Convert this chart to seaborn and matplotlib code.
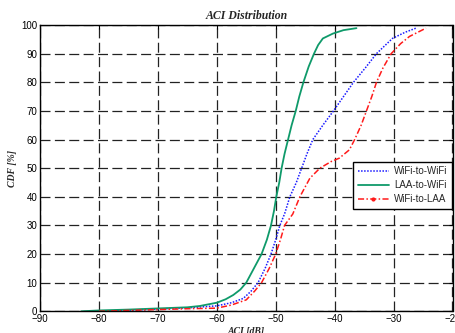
import numpy as np
import pandas as pd
import matplotlib
matplotlib.use("Agg")
import matplotlib.pyplot as plt
from matplotlib.lines import Line2D
import seaborn as sns

series_names = ["WiFi-to-WiFi", "LAA-to-WiFi", "WiFi-to-LAA"]

wifi_wifi_x = [-80, -75, -70, -65, -60, -57.5, -55.5, -54.2, -53, -51.8, -50.8, -50, -49.3,
               -48.5, -47.6, -46.5, -45.6, -44.7, -43.7, -42, -40.2, -38.5, -36.8, -34.8,
               -32.9, -30.2, -28, -26.2]
wifi_wifi_y = [0, 0.4, 0.8, 1.2, 1.9, 3, 4.5, 7, 10, 15, 20, 25, 30,
               34, 40, 45, 50, 55, 60, 65, 70, 75, 80, 85,
               90, 95.3, 97.5, 98.9]

laa_wifi_x = [-83, -80, -75, -70, -65, -62.9, -60, -58.5, -57.2, -56, -55, -53.7, -52.4,
              -51.5, -50.8, -50.3, -49.9, -49.4, -49.0, -48.5, -47.9, -47.3, -46.6, -46.0,
              -45.3, -44.4, -43.5, -42.8, -42, -40.3, -38.5, -36.3]
laa_wifi_y = [0, 0.3, 0.6, 1.0, 1.4, 1.85, 3.0, 4.2, 5.7, 7.6, 10, 15, 20,
              25, 30, 35, 40, 45, 50, 55, 60, 65, 70, 75,
              80, 85.5, 90, 93, 95.3, 97, 98.2, 98.9]

wifi_laa_x = [-80, -75, -70, -65, -60, -57.5, -55, -53.6, -52.4, -51.1, -50, -49.2, -48.5,
              -47.1, -45.9, -44.2, -42.5, -40.6, -39.2, -37.5, -36.6, -35.5, -34.6, -33.7,
              -32.9, -31.8, -30.4, -28.8, -27.3, -24.5]
wifi_laa_y = [0, 0.3, 0.6, 0.9, 1.1, 2.2, 4, 7, 10, 15, 20, 25, 30,
              34, 40, 46.5, 50, 52.3, 53.5, 56.4, 60, 65, 70, 75,
              80, 85, 90, 93.5, 96, 98.9]

x_ticks = [-90, -80, -70, -60, -50, -40, -30, -20]
y_ticks = [0, 10, 20, 30, 40, 50, 60, 70, 80, 90, 100]

df = pd.concat([
    pd.DataFrame({"x": wifi_wifi_x, "y": wifi_wifi_y, "s": series_names[0]}),
    pd.DataFrame({"x": laa_wifi_x, "y": laa_wifi_y, "s": series_names[1]}),
    pd.DataFrame({"x": wifi_laa_x, "y": wifi_laa_y, "s": series_names[2]}),
])

sns.set_style("white")
plt.rcParams["font.family"] = ["Liberation Sans", "DejaVu Sans"]

fig = plt.figure(figsize=(4.55, 3.33), dpi=100)
ax = fig.add_axes([40/455, (333-311.3)/333, 412.5/455, (311.3-25)/333])

colors = {series_names[0]: "#1a1aff", series_names[1]: "#0f9a6a", series_names[2]: "#ff1a1a"}
styles = {
    series_names[0]: dict(linestyle=(0, (1, 1)), lw=1.1),
    series_names[1]: dict(linestyle="-", lw=1.3),
    series_names[2]: dict(linestyle=(0, (4, 1.5, 1, 1.5)), lw=1.1),
}
for name in series_names:
    sub = df[df["s"] == name]
    sns.lineplot(data=sub, x="x", y="y", ax=ax, sort=False, estimator=None,
                 color=colors[name], **styles[name])

handles = [
    Line2D([], [], color=colors[series_names[0]], **styles[series_names[0]]),
    Line2D([], [], color=colors[series_names[1]], **styles[series_names[1]]),
    Line2D([], [], color=colors[series_names[2]], marker=".", markersize=4,
           **styles[series_names[2]]),
]

ax.set_xlim(-90, -20)
ax.set_ylim(0, 100)
ax.set_xticks(x_ticks)
ax.set_yticks(y_ticks)
ax.tick_params(direction="in", top=True, right=True, labelsize=7, length=3,
               width=0.8, pad=2, colors="black")
for sp in ax.spines.values():
    sp.set_color("black")
    sp.set_linewidth(1.0)
ax.grid(True, color="#222222", linestyle=(0, (8, 3.5)), linewidth=0.9)

ax.set_title("ACI Distribution", fontsize=8.5, fontweight="bold", style="italic",
             family="Liberation Serif", pad=4)
ax.set_xlabel("ACI [dB]", fontsize=7, fontweight="bold", style="italic",
              family="Liberation Serif", labelpad=2)
ax.set_ylabel("CDF [%]", fontsize=7, fontweight="bold", style="italic",
              family="Liberation Serif", labelpad=3)

leg = ax.legend(handles, series_names, loc="center right", bbox_to_anchor=(1.0, 0.44),
                fontsize=7, frameon=True, fancybox=False, edgecolor="black",
                framealpha=1, handlelength=3.2, borderpad=0.45, labelspacing=0.4,
                handletextpad=0.5, borderaxespad=0.1)
leg.get_frame().set_linewidth(1.0)

fig.savefig("out.png", dpi=100)
